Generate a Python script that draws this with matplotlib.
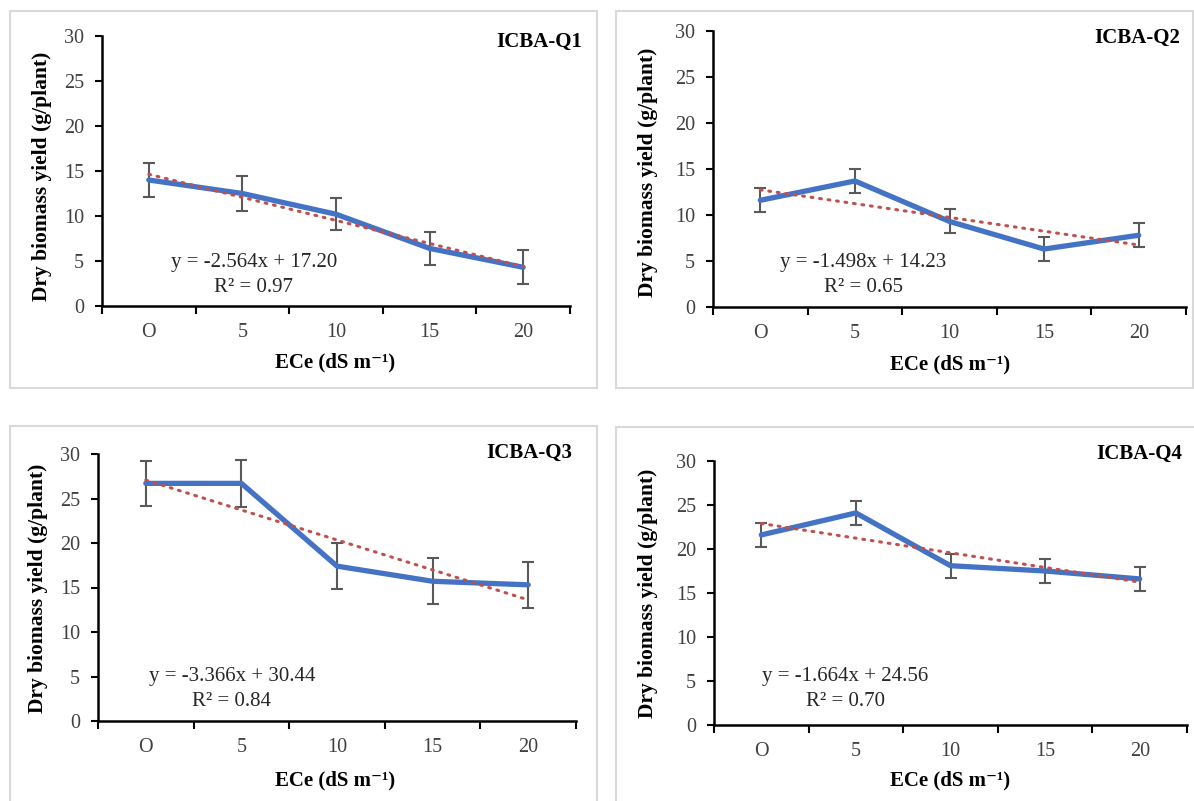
import matplotlib
matplotlib.use("Agg")
import matplotlib.pyplot as plt
from matplotlib.patches import Rectangle
import numpy as np

# data
categories = ["O", "5", "10", "15", "20"]
titles = ["ICBA-Q1", "ICBA-Q2", "ICBA-Q3", "ICBA-Q4"]
q1 = [14.0, 12.5, 10.2, 6.4, 4.3]
q2 = [11.6, 13.7, 9.3, 6.3, 7.8]
q3 = [26.7, 26.7, 17.4, 15.7, 15.3]
q4 = [21.6, 24.1, 18.1, 17.5, 16.6]
err1 = [1.85, 1.9, 1.8, 1.8, 1.9]
err2 = [1.3, 1.3, 1.3, 1.3, 1.3]
err3 = [2.55, 2.6, 2.6, 2.6, 2.6]
err4 = [1.4, 1.4, 1.35, 1.4, 1.4]
slopes = [-2.564, -1.498, -3.366, -1.664]
intercepts = [17.20, 14.23, 30.44, 24.56]
r2 = ["0.97", "0.65", "0.84", "0.70"]

W, H = 1194, 801
plt.rcParams['font.family'] = ['Liberation Serif', 'DejaVu Serif']

fig = plt.figure(figsize=(W / 100, H / 100), dpi=100)

def fx(px):
    return px / W

def fy(py):
    return 1 - py / H

# pixel layout of each panel: axes box, frame box, title pos, equation pos, xlabel pos, ylabel pos
panels = [
    dict(ax=(102, 570, 36, 306), frame=(10, 597, 11, 388), title=(582, 42), eq=(254, 263), xl=(335, 362), yl=(42, 176)),
    dict(ax=(713, 1186, 31, 307), frame=(616, 1193, 11, 388), title=(1180, 38), eq=(863, 262), xl=(950, 364), yl=(648, 172)),
    dict(ax=(98, 576, 454, 721), frame=(10, 597, 426, 805), title=(572, 453), eq=(232, 676), xl=(335, 780), yl=(38, 588)),
    dict(ax=(714, 1187, 461, 725), frame=(616, 1198, 427, 805), title=(1182, 454), eq=(845, 677), xl=(950, 780), yl=(648, 593)),
]

data = [(q1, err1), (q2, err2), (q3, err3), (q4, err4)]
x = np.arange(len(categories))

for i, p in enumerate(panels):
    l, r, t, b = p["ax"]
    fl, fr, ft, fb = p["frame"]
    fig.patches.append(Rectangle((fx(fl), fy(fb)), fx(fr - fl), (fb - ft) / H,
                                 transform=fig.transFigure, fill=False,
                                 edgecolor="#d9d9d9", lw=1.5, zorder=0))
    ax = fig.add_axes([fx(l), fy(b), fx(r - l), (b - t) / H])
    vals, errs = data[i]
    ax.errorbar(x, vals, yerr=errs, fmt="none", ecolor="#595959",
                elinewidth=1.5, capsize=4.5, capthick=1.5, zorder=2)
    ax.plot(x, vals, color="#4472C4", lw=3.8, solid_capstyle="round",
            solid_joinstyle="round", zorder=3)
    xt = x + 1
    trend = slopes[i] * xt + intercepts[i]
    ax.plot(x, trend, color="#C0504D", lw=2.2, ls=(0, (0.6, 2.2)),
            dash_capstyle="round", zorder=4)

    ax.set_xlim(-0.5, 4.5)
    ax.set_ylim(0, 30)
    ax.set_yticks(range(0, 31, 5))
    ax.set_xticks(np.arange(-0.5, 5, 1.0))
    ax.set_xticklabels([])
    ax.set_xticks(x, minor=True)
    ax.set_xticklabels(categories, minor=True)
    ax.tick_params(axis="x", which="major", length=6, width=1.5, direction="out")
    ax.tick_params(axis="x", which="minor", length=0, pad=12, labelsize=14.5, labelcolor="#404040")
    ax.tick_params(axis="y", length=5, width=1.5, pad=8, labelsize=14.5, labelcolor="#404040")
    for s in ["top", "right"]:
        ax.spines[s].set_visible(False)
    for s in ["left", "bottom"]:
        ax.spines[s].set_linewidth(1.8)
    ax.patch.set_alpha(0)

    tx, ty = p["title"]
    fig.text(fx(tx), fy(ty), titles[i], ha="right", va="center",
             fontsize=15, fontweight="bold")
    ex, ey = p["eq"]
    fig.text(fx(ex), fy(ey), "y = %.3fx + %.2f" % (slopes[i], intercepts[i]),
             ha="center", va="center", fontsize=15, color="#262626")
    fig.text(fx(ex), fy(ey + 25), "R\u00b2 = " + r2[i], ha="center", va="center",
             fontsize=15, color="#262626")
    lx, ly = p["xl"]
    fig.text(fx(lx), fy(ly), "ECe (dS m\u207b\u00b9)", ha="center", va="center",
             fontsize=15, fontweight="bold")
    yx, yy = p["yl"]
    fig.text(fx(yx), fy(yy), "Dry biomass yield (g/plant)", ha="center", va="center",
             rotation=90, fontsize=15.5, fontweight="bold")

fig.savefig("out.png", dpi=100)
